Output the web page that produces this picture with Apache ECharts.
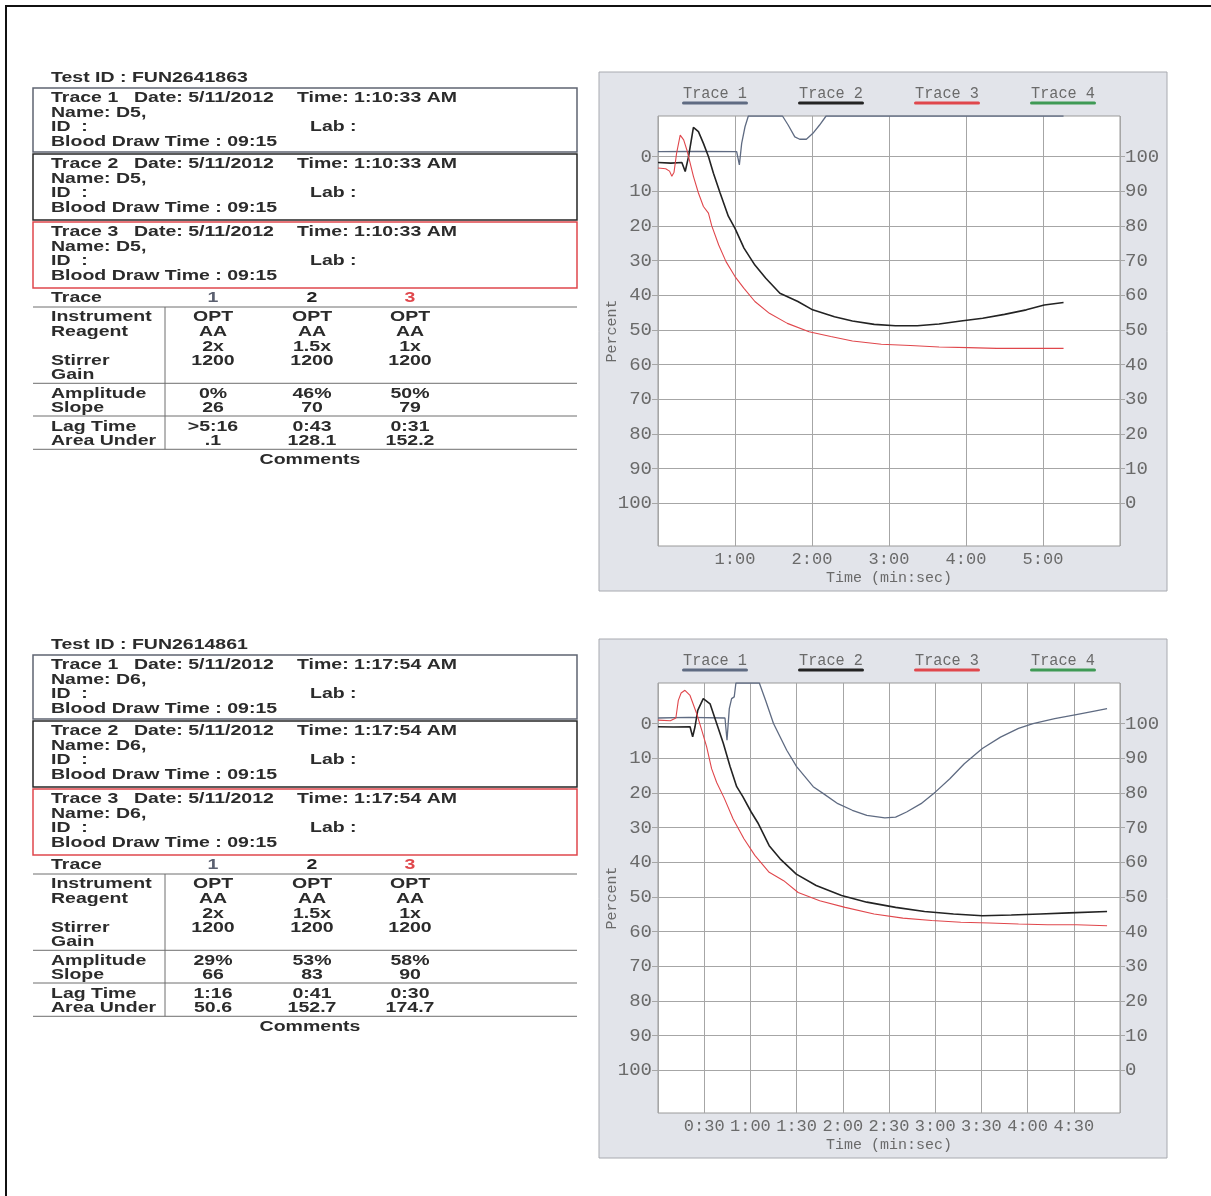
<!DOCTYPE html>
<html>
<head>
<meta charset="utf-8">
<title>Aggregation report</title>
<script src="https://cdn.jsdelivr.net/npm/echarts@6/dist/echarts.min.js"></script>
<style>
  html, body { margin: 0; padding: 0; background: #ffffff; }
  #main { width: 1211px; height: 1196px; }
</style>
</head>
<body>
<div id="main"></div>
<script>
// ---- traces: [seconds, percent] ----
const traceNames = ['Trace 1', 'Trace 2', 'Trace 3', 'Trace 4'];
const traceColors = ['#5f6b82', '#232323', '#e0474c', '#3f9a55'];

// Test FUN2641863 (D5)
const d5Trace1 = [[0,-1.4],[30,-1.5],[61.3,-1.4],[63.4,2.4],[65.2,-3.8],[67.8,-8.6],[70.4,-11.7],[97,-11.7],[101.4,-9.1],[106.6,-5.7],[110.4,-5],[115.6,-5],[120.7,-6.7],[125.9,-9.1],[131,-11.7],[316,-11.7]];
const d5Trace2 = [[0,1.7],[10,1.9],[18.6,1.7],[21.2,4.3],[23.8,0],[27.6,-8.4],[31.5,-7.2],[35.4,-3.8],[39.3,0],[43.2,4.8],[48.4,10.5],[54.8,17.2],[60,20.7],[67,26.4],[75.5,31.3],[84,35.1],[95,39.4],[109,41.8],[120.5,44.2],[137.5,46.2],[151.5,47.4],[168.5,48.4],[185,48.8],[202,48.8],[219,48.3],[236,47.4],[253,46.6],[270,45.5],[287,44.2],[301,42.8],[316,42.1]];
const d5Trace3 = [[0,3.3],[6,3.5],[9,4.2],[10.8,5.7],[12.5,4.5],[14.5,-1],[17.3,-6.2],[20,-4.8],[22.5,-1.9],[27.6,5.7],[31.5,10.5],[35.4,14.4],[39.3,16.3],[41.9,20],[47.3,25.5],[53,30.3],[60,34.6],[67,38],[75.5,41.8],[86.8,45.2],[100.8,48.1],[117.7,50.5],[134.6,51.9],[151.5,53.2],[174,54.1],[196.6,54.5],[219,54.9],[241.7,55.1],[264,55.3],[287,55.3],[316,55.3]];
const d5Trace4 = [];

// Test FUN2614861 (D6)
const d6Trace1 = [[0,-1.6],[20,-1.8],[43.5,-1.6],[44.8,4.8],[46.3,-4.3],[47.8,-7.2],[49.5,-7.7],[50.6,-11.7],[65.8,-11.7],[70,-6.5],[75,0],[83.6,7.7],[90,12.4],[100.8,18.2],[107.4,20.2],[116.8,23.1],[126.2,25],[135.6,26.5],[147.3,27.2],[154.3,27],[161.4,25.5],[170.8,23.1],[180.2,19.7],[189.5,15.9],[198.9,11.6],[210.6,7.2],[222.4,3.9],[234.1,1.4],[243.5,0],[257.6,-1.4],[271.6,-2.6],[283.4,-3.6],[291.6,-4.3]];
const d6Trace2 = [[0,0.9],[10,1.0],[20.8,0.9],[22.5,3.8],[24,1],[25.8,-3.8],[29.4,-7.2],[33.8,-5.7],[38.1,0],[42.4,5.7],[46.8,12.4],[51.1,18.2],[55,21],[60.5,25.5],[65.2,28.9],[72.2,35.2],[79.3,39],[89.8,43.4],[102.7,46.7],[119.2,49.6],[135.6,51.5],[154.3,53],[173.1,54.2],[191.9,54.9],[210.6,55.4],[229.4,55.2],[248.2,54.9],[267,54.6],[291.6,54.2]];
const d6Trace3 = [[0,-1],[8,-0.8],[11.6,-1.6],[13.2,-6.7],[15,-8.8],[17.5,-9.6],[20.8,-8.1],[25.1,-2.9],[28.4,1.9],[31.6,6.7],[34.8,13],[38.1,17],[43,21.5],[48.8,27.5],[55.8,33.2],[62.9,38],[72.2,42.9],[81.6,45.3],[91,48.7],[105,51.1],[121.5,53],[140.3,54.9],[159,56.1],[177.8,56.8],[196.6,57.3],[215.3,57.5],[234.1,57.8],[252.9,58],[271.6,58],[291.6,58.3]];
const d6Trace4 = [];

// ---- axis ticks ----
const percentTicks = [0, 10, 20, 30, 40, 50, 60, 70, 80, 90, 100];
const d5TimeTicks = [60, 120, 180, 240, 300];
const d6TimeTicks = [30, 60, 90, 120, 150, 180, 210, 240, 270];

// ---- report tables ----
const rowLabelsA = ['Instrument', 'Reagent', '', 'Stirrer', 'Gain'];
const rowLabelsB = ['Amplitude', 'Slope'];
const rowLabelsC = ['Lag Time', 'Area Under'];
const traceNumColors = ['#5b6070', '#232323', '#e0474c'];
const boxColors = ['#5f6472', '#262626', '#e0474c'];

const d5Instrument = ['OPT', 'OPT', 'OPT'];
const d5Reagent = ['AA', 'AA', 'AA'];
const d5Dose = ['2x', '1.5x', '1x'];
const d5Stirrer = ['1200', '1200', '1200'];
const d5Amplitude = ['0%', '46%', '50%'];
const d5Slope = ['26', '70', '79'];
const d5Lag = ['>5:16', '0:43', '0:31'];
const d5Area = ['.1', '128.1', '152.2'];

const d6Instrument = ['OPT', 'OPT', 'OPT'];
const d6Reagent = ['AA', 'AA', 'AA'];
const d6Dose = ['2x', '1.5x', '1x'];
const d6Stirrer = ['1200', '1200', '1200'];
const d6Amplitude = ['29%', '53%', '58%'];
const d6Slope = ['66', '83', '90'];
const d6Lag = ['1:16', '0:41', '0:30'];
const d6Area = ['50.6', '152.7', '174.7'];

const fmtTime = v => Math.floor(v / 60) + ':' + String(v % 60).padStart(2, '0');

const PANEL_SHIFT = 567;
const TXT_FONT = 'bold 15px "Liberation Sans", Arial, sans-serif';
const TXT_COLOR = '#2b2b2b';
const TXT_SCALE = 1.3;
const MONO = '"Liberation Mono", "DejaVu Sans Mono", monospace';
const GRAY_TXT = '#6a6a6a';
const GRID_LINE = '#a6a6a6';

function txt(x, y, s, opts) {
  opts = opts || {};
  return {
    type: 'text', x: x, y: y, scaleX: opts.scaleX == null ? TXT_SCALE : opts.scaleX, silent: true,
    style: {
      text: s, font: opts.font || TXT_FONT, fill: opts.fill || TXT_COLOR,
      textAlign: opts.align || 'left', textVerticalAlign: 'middle'
    }
  };
}
function hline(x1, x2, y, color, w) {
  return { type: 'line', silent: true, shape: { x1: x1, y1: y, x2: x2, y2: y }, style: { stroke: color || '#6e6e6e', lineWidth: w || 1 } };
}
function vline(x, y1, y2, color, w) {
  return { type: 'line', silent: true, shape: { x1: x, y1: y1, x2: x, y2: y2 }, style: { stroke: color || '#6e6e6e', lineWidth: w || 1 } };
}

function report(dy, testId, name, time, cols) {
  const els = [];
  const L = 51, BX = 33, BR = 577;
  els.push(txt(L, 78 + dy, 'Test ID : ' + testId));
  const boxTops = [88, 154, 222];
  const boxH = [64, 66, 66];
  const lineOff = [10, 24.5, 39.3, 53.8];
  boxTops.forEach((t, i) => {
    const top = t + dy;
    els.push({ type: 'rect', silent: true, shape: { x: BX, y: top, width: BR - BX, height: boxH[i] },
      style: { fill: 'none', stroke: boxColors[i], lineWidth: 1.5 } });
    els.push(txt(L, top + lineOff[0], 'Trace ' + (i + 1)));
    els.push(txt(134, top + lineOff[0], 'Date: 5/11/2012'));
    els.push(txt(297, top + lineOff[0], 'Time: ' + time));
    els.push(txt(L, top + lineOff[1], 'Name: ' + name));
    els.push(txt(L, top + lineOff[2], 'ID  :'));
    els.push(txt(310, top + lineOff[2], 'Lab :'));
    els.push(txt(L, top + lineOff[3], 'Blood Draw Time : 09:15'));
  });
  const colX = [213, 312, 410];
  els.push(txt(L, 298 + dy, 'Trace'));
  colX.forEach((x, i) => els.push(txt(x, 298 + dy, String(i + 1), { align: 'center', fill: traceNumColors[i] })));
  els.push(hline(BX, BR, 307 + dy));
  const yA = [317.3, 331.7, 346.7, 361, 375];
  rowLabelsA.forEach((s, i) => { if (s) els.push(txt(L, yA[i] + dy, s)); });
  [cols.instrument, cols.reagent, cols.dose, cols.stirrer].forEach((vals, r) => {
    vals.forEach((v, c) => els.push(txt(colX[c], yA[r] + dy, v, { align: 'center' })));
  });
  els.push(hline(BX, BR, 383.3 + dy));
  const yB = [394.3, 408.3];
  rowLabelsB.forEach((s, i) => els.push(txt(L, yB[i] + dy, s)));
  [cols.amplitude, cols.slope].forEach((vals, r) => {
    vals.forEach((v, c) => els.push(txt(colX[c], yB[r] + dy, v, { align: 'center' })));
  });
  els.push(hline(BX, BR, 416 + dy));
  const yC = [426.7, 441];
  rowLabelsC.forEach((s, i) => els.push(txt(L, yC[i] + dy, s)));
  [cols.lag, cols.area].forEach((vals, r) => {
    vals.forEach((v, c) => els.push(txt(colX[c], yC[r] + dy, v, { align: 'center' })));
  });
  els.push(hline(BX, BR, 449.3 + dy));
  els.push(vline(165, 307 + dy, 449.3 + dy));
  els.push(txt(310, 460 + dy, 'Comments', { align: 'center' }));
  return els;
}

function chartFrame(dy) {
  const els = [];
  els.push({ type: 'rect', silent: true, z: -10, shape: { x: 599, y: 72 + dy, width: 568, height: 519 },
    style: { fill: '#e2e4ea', stroke: '#a8aab0', lineWidth: 1 } });
  const cx = [715, 831, 947, 1063];
  traceNames.forEach((n, i) => {
    els.push(txt(cx[i], 94 + dy, n, { align: 'center', font: '16px ' + MONO, fill: GRAY_TXT, scaleX: 0.95 }));
    els.push({ type: 'rect', silent: true, shape: { x: cx[i] - 33, y: 101.5 + dy, width: 66, height: 3, r: 1.5 },
      style: { fill: traceColors[i] } });
  });
  return els;
}

const PLOT = { left: 658, width: 462, height: 430 };
const tops = [116, 116 + PANEL_SHIFT];

const grids = tops.map(t => ({
  left: PLOT.left, top: t, width: PLOT.width, height: PLOT.height,
  show: true, backgroundColor: '#ffffff', borderColor: '#9a9a9a', borderWidth: 1
}));

const yLabelStyle = { color: GRAY_TXT, fontFamily: MONO, fontSize: 19 };
const xLabelStyle = { color: GRAY_TXT, fontFamily: MONO, fontSize: 17 };
const nameStyle = { color: GRAY_TXT, fontFamily: MONO, fontSize: 15 };

function timeAxis(gi, max, interval, ticks) {
  return {
    gridIndex: gi, type: 'value', min: 0, max: max, interval: interval,
    axisLine: { show: false }, axisTick: { show: false },
    axisLabel: Object.assign({ customValues: ticks, formatter: fmtTime, margin: 5, hideOverlap: false }, xLabelStyle),
    splitLine: { show: true, lineStyle: { color: GRID_LINE, width: 1 } },
    name: 'Time (min:sec)', nameLocation: 'middle', nameGap: 25, nameTextStyle: nameStyle
  };
}
function percentAxisLeft(gi) {
  return {
    gridIndex: gi, type: 'value', inverse: true, min: -11.7, max: 112.3, position: 'left',
    axisLine: { show: false },
    axisTick: { show: true, customValues: percentTicks, length: 6, lineStyle: { color: GRID_LINE } },
    axisLabel: Object.assign({ customValues: percentTicks, margin: 6 }, yLabelStyle),
    splitLine: { show: true, lineStyle: { color: GRID_LINE, width: 1 } },
    name: 'Percent', nameLocation: 'middle', nameRotate: 90, nameGap: 38, nameMoveOverlap: false,
    nameTextStyle: nameStyle
  };
}
function percentAxisRight(gi) {
  return {
    gridIndex: gi, type: 'value', min: 100 - 112.3, max: 100 + 11.7, position: 'right',
    axisLine: { show: false },
    axisTick: { show: true, customValues: percentTicks, length: 5, lineStyle: { color: GRID_LINE } },
    axisLabel: Object.assign({ customValues: percentTicks, margin: 5 }, yLabelStyle),
    splitLine: { show: false }
  };
}

const lineWidths = [1.3, 1.6, 1.1, 1.2];
function traceSeries(gi, datas) {
  return datas.map((d, i) => ({
    name: traceNames[i], type: 'line', xAxisIndex: gi, yAxisIndex: gi * 2,
    data: d, showSymbol: false, symbol: 'none', clip: true, silent: true,
    lineStyle: { color: traceColors[i], width: lineWidths[i] }, z: 3 + (i === 0 ? 0 : 1)
  }));
}

const chart = echarts.init(document.getElementById('main'), null, { renderer: 'canvas' });
chart.setOption({
  animation: false,
  backgroundColor: '#ffffff',
  grid: grids,
  xAxis: [timeAxis(0, 360, 60, d5TimeTicks), timeAxis(1, 300, 30, d6TimeTicks)],
  yAxis: [percentAxisLeft(0), percentAxisRight(0), percentAxisLeft(1), percentAxisRight(1)],
  series: traceSeries(0, [d5Trace1, d5Trace2, d5Trace3, d5Trace4])
    .concat(traceSeries(1, [d6Trace1, d6Trace2, d6Trace3, d6Trace4])),
  graphic: {
    elements: [
      { type: 'polyline', silent: true, shape: { points: [[6, 1196], [6, 6], [1211, 6]] }, style: { stroke: '#111111', lineWidth: 2, fill: 'none' } }
    ].concat(
      chartFrame(0), chartFrame(PANEL_SHIFT),
      report(0, 'FUN2641863', 'D5,', '1:10:33 AM', { instrument: d5Instrument, reagent: d5Reagent, dose: d5Dose, stirrer: d5Stirrer, amplitude: d5Amplitude, slope: d5Slope, lag: d5Lag, area: d5Area }),
      report(PANEL_SHIFT, 'FUN2614861', 'D6,', '1:17:54 AM', { instrument: d6Instrument, reagent: d6Reagent, dose: d6Dose, stirrer: d6Stirrer, amplitude: d6Amplitude, slope: d6Slope, lag: d6Lag, area: d6Area })
    )
  }
});
</script>
</body>
</html>
